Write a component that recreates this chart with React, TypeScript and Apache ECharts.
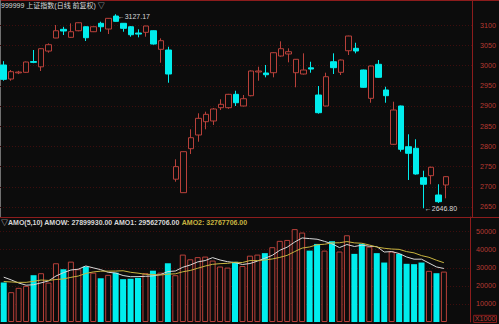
import React, { useEffect, useRef } from 'react';
import * as echarts from 'echarts';

// Trading days shown (Shanghai Composite, daily, forward-adjusted)
const dates = [
  '2019-12-23', '2019-12-24', '2019-12-25', '2019-12-26', '2019-12-27', '2019-12-30', '2019-12-31',
  '2020-01-02', '2020-01-03', '2020-01-06', '2020-01-07', '2020-01-08', '2020-01-09', '2020-01-10',
  '2020-01-13', '2020-01-14', '2020-01-15', '2020-01-16', '2020-01-17', '2020-01-20', '2020-01-21',
  '2020-01-22', '2020-01-23', '2020-02-03', '2020-02-04', '2020-02-05', '2020-02-06', '2020-02-07',
  '2020-02-10', '2020-02-11', '2020-02-12', '2020-02-13', '2020-02-14', '2020-02-17', '2020-02-18',
  '2020-02-19', '2020-02-20', '2020-02-21', '2020-02-24', '2020-02-25', '2020-02-26', '2020-02-27',
  '2020-02-28', '2020-03-02', '2020-03-03', '2020-03-04', '2020-03-05', '2020-03-06', '2020-03-09',
  '2020-03-10', '2020-03-11', '2020-03-12', '2020-03-13', '2020-03-16', '2020-03-17', '2020-03-18',
  '2020-03-19', '2020-03-20', '2020-03-23', '2020-03-24',
];

const opens = [
  3001.5, 2966.8, 2982.0, 2983.4, 3010.0, 2997.0, 3036.0, 3068.3, 3089.8, 3070.0,
  3086.3, 3096.2, 3083.9, 3104.7, 3090.5, 3122.7, 3104.7, 3096.2, 3080.6, 3082.4,
  3086.3, 3040.3, 3038.6, 2718.8, 2685.4, 2794.3, 2828.2, 2861.1, 2862.9, 2895.8,
  2895.8, 2928.9, 2900.0, 2925.5, 2984.2, 2981.7, 2982.4, 3023.7, 3028.7, 2982.4,
  2979.2, 2994.5, 2927.2, 2900.0, 3009.6, 2983.4, 3036.8, 3042.8, 2989.1, 2919.0,
  3003.2, 2939.6, 2805.2, 2900.0, 2799.2, 2795.3, 2722.5, 2727.5, 2679.7, 2704.5,
];
const closes = [
  2966.0, 2984.9, 2984.0, 3008.9, 3008.0, 3041.8, 3051.7, 3086.3, 3085.6, 3083.9,
  3106.1, 3069.0, 3096.2, 3096.2, 3117.0, 3109.6, 3092.3, 3076.4, 3078.0, 3098.0,
  3053.4, 3061.6, 2979.2, 2749.9, 2786.9, 2821.5, 2869.5, 2879.4, 2892.6, 2904.2,
  2928.9, 2908.1, 2918.0, 2986.6, 2986.6, 2977.4, 3031.9, 3041.8, 3034.4, 3015.6,
  2989.1, 2991.5, 2883.4, 2972.5, 2994.8, 3013.8, 3073.2, 3036.1, 2946.3, 2999.0,
  2971.0, 2925.5, 2890.1, 2792.8, 2782.9, 2731.7, 2706.2, 2748.3, 2663.1, 2725.0,
];
const lows = [
  2962.6, 2962.6, 2979.0, 2982.0, 3006.0, 2986.6, 3032.0, 3068.0, 3075.7, 3069.0,
  3085.0, 3060.9, 3083.0, 3083.9, 3078.2, 3109.0, 3083.9, 3071.5, 3070.0, 3071.5,
  3052.0, 3007.1, 2957.6, 2712.6, 2685.0, 2781.2, 2811.6, 2842.3, 2853.0, 2890.0,
  2893.0, 2900.0, 2899.0, 2924.0, 2962.6, 2971.0, 2971.0, 3022.0, 3008.1, 2946.3,
  2978.0, 2982.4, 2881.0, 2899.0, 2979.2, 2976.7, 3026.2, 3030.4, 2945.0, 2908.1,
  2970.0, 2908.1, 2804.0, 2786.9, 2716.8, 2730.0, 2646.8, 2706.2, 2660.0, 2671.5,
];
const highs = [
  3011.0, 2989.0, 2987.0, 3010.0, 3038.6, 3043.0, 3055.0, 3100.5, 3096.0, 3104.6,
  3107.0, 3097.0, 3097.0, 3108.6, 3117.8, 3127.17, 3105.0, 3098.0, 3089.8, 3098.5,
  3087.0, 3067.5, 3046.7, 2768.0, 2787.5, 2842.3, 2881.9, 2885.9, 2895.0, 2916.6,
  2930.0, 2937.8, 2927.2, 2988.0, 2997.2, 3001.5, 3033.0, 3060.1, 3042.8, 3016.0,
  3030.4, 3009.6, 2949.5, 2982.4, 3030.4, 3015.0, 3074.0, 3056.6, 2990.0, 3000.0,
  3013.8, 2947.7, 2910.6, 2901.0, 2829.9, 2817.6, 2739.8, 2750.0, 2706.2, 2726.0,
];
// Turnover (AMO), in units of 1000
const volumes = [
  21800, 16500, 18900, 20000, 25900, 27000, 21800, 32500, 29200, 33400,
  29200, 30700, 27300, 24200, 26100, 27300, 23700, 24000, 24400, 27000,
  28400, 27300, 32500, 25900, 37300, 34700, 35900, 36200, 34000, 30700,
  30100, 33300, 31000, 36700, 37300, 38100, 41400, 44900, 45400, 51400,
  49500, 39500, 43200, 39500, 44700, 39000, 48000, 37700, 43200, 41700,
  38100, 32900, 39000, 37700, 32200, 32000, 32900, 28300, 27000, 27900,
];
// Estimated turnover of the 9 sessions before the first shown day (MA warm-up only)
const priorVolumes = [19000, 21000, 20000, 20500, 19500, 24000, 27500, 26000, 24700];

const priceTicks = [2650, 2700, 2750, 2800, 2850, 2900, 2950, 3000, 3050, 3100];
const volumeTicks = [10000, 20000, 30000, 40000, 50000];

const titleText = '999999 上证指数(日线 前复权) ▽';
const amoName = '▽AMO(5,10)';
const amoW = '27899930.00';
const amo1 = '29562706.00';
const amo2 = '32767706.00';
const unitLabel = 'X1000';

const BG = '#0c0c0c';
const RED = '#b8403a';
const CYAN = '#00eded';
const GRID = '#3e0e0e';
const AXIS = '#8c1c1c';
const LABEL = '#b83a32';
const WHITE = '#d8d8d8';
const YELLOW = '#c8b440';
const FONT = '"Liberation Sans", "Noto Sans CJK SC", sans-serif';
const TXT = 7;

function movingAverage(n: number): number[] {
  const all = priorVolumes.concat(volumes);
  const off = priorVolumes.length;
  return volumes.map((_, i) => {
    let s = 0;
    for (let k = i + off - n + 1; k <= i + off; k++) s += all[k];
    return +(s / n).toFixed(1);
  });
}

export default function App() {
  const ref = useRef<HTMLDivElement>(null);
  useEffect(() => {
    document.body.style.margin = '0';
    const chart = echarts.init(ref.current!, null, { renderer: 'svg' });
    const ohlc = dates.map((_, i) => [opens[i], closes[i], lows[i], highs[i]]);
    const volData = volumes.map((v, i) => ({
      value: v,
      itemStyle: closes[i] >= opens[i]
        ? { color: BG, borderColor: RED, borderWidth: 1 }
        : { color: CYAN, borderWidth: 0 },
    }));
    const axisCommon = {
      axisLine: { show: false },
      axisTick: { show: false },
      axisLabel: { show: false },
      splitLine: { show: false },
    };
    const plain = (v: number) => String(v);
    chart.setOption({
      animation: false,
      backgroundColor: BG,
      title: [
        {
          text: titleText, left: 1, top: 2, padding: 0,
          textStyle: { color: WHITE, fontSize: TXT, fontWeight: 'normal', fontFamily: FONT },
        },
        {
          text: `{w|${amoName} AMOW: ${amoW} AMO1: ${amo1} }{y|AMO2: ${amo2}}`,
          left: 1, top: 218.5, padding: 0,
          textStyle: {
            fontSize: TXT, fontFamily: FONT,
            rich: {
              w: { color: WHITE, fontSize: TXT, fontFamily: FONT },
              y: { color: YELLOW, fontSize: TXT, fontFamily: FONT },
            },
          },
        },
      ],
      grid: [
        { left: 0, right: 27, top: 0, height: 217 },
        { left: 0, right: 27, top: 217, height: 105 },
      ],
      xAxis: [
        { type: 'category', gridIndex: 0, data: dates, max: 62, boundaryGap: true, ...axisCommon },
        { type: 'category', gridIndex: 1, data: dates, max: 62, boundaryGap: true, ...axisCommon },
      ],
      yAxis: [
        {
          type: 'value', gridIndex: 0, position: 'right', min: 2625.2, max: 3162.4,
          axisLine: { show: true, lineStyle: { color: AXIS } },
          axisTick: { show: false, customValues: priceTicks },
          axisLabel: { customValues: priceTicks, formatter: plain, color: LABEL, fontSize: 7.2, margin: 8, fontFamily: FONT },
          splitLine: { show: true, lineStyle: { color: GRID, type: [1, 2], width: 1 } },
        },
        {
          type: 'value', gridIndex: 1, position: 'right', min: 0, max: 58100,
          axisLine: { show: true, lineStyle: { color: AXIS } },
          axisTick: { show: false, customValues: volumeTicks },
          axisLabel: { customValues: volumeTicks, formatter: plain, color: LABEL, fontSize: 7.2, margin: 6, fontFamily: FONT },
          splitLine: { show: true, lineStyle: { color: GRID, type: [1, 2], width: 1 } },
        },
      ],
      series: [
        {
          type: 'candlestick', xAxisIndex: 0, yAxisIndex: 0, data: ohlc, barWidth: 6,
          itemStyle: { color: BG, color0: CYAN, borderColor: RED, borderColor0: CYAN, borderWidth: 1 },
          markPoint: {
            symbol: 'circle', symbolSize: 1,
            itemStyle: { color: 'rgba(0,0,0,0)' },
            label: {
              show: true, position: 'right', distance: 1,
              color: WHITE, fontSize: TXT, fontFamily: FONT,
              formatter: (p: any) => '←' + Number(p.value).toFixed(2),
            },
            data: [
              { type: 'max', valueDim: 'highest', label: { offset: [0, 2] } },
              { type: 'min', valueDim: 'lowest', label: { offset: [0, 0] } },
            ],
          },
        },
        {
          type: 'bar', xAxisIndex: 1, yAxisIndex: 1, data: volData, barWidth: 6,
        },
        {
          type: 'line', xAxisIndex: 1, yAxisIndex: 1, data: movingAverage(5),
          showSymbol: false, lineStyle: { color: WHITE, width: 1 }, z: 5,
        },
        {
          type: 'line', xAxisIndex: 1, yAxisIndex: 1, data: movingAverage(10),
          showSymbol: false, lineStyle: { color: YELLOW, width: 1 }, z: 5,
        },
      ],
      graphic: [
        { type: 'line', shape: { x1: 0, y1: 217.5, x2: 499, y2: 217.5 }, style: { stroke: AXIS, lineWidth: 1 } },
        { type: 'line', shape: { x1: 0, y1: 0.5, x2: 499, y2: 0.5 }, style: { stroke: AXIS, lineWidth: 1 } },
        { type: 'line', shape: { x1: 0.5, y1: 0, x2: 0.5, y2: 217 }, style: { stroke: '#707070', lineWidth: 1 } },
        {
          type: 'text', right: 2, bottom: 1,
          style: {
            text: unitLabel, fill: LABEL, fontSize: 7.2, fontFamily: FONT,
            borderColor: AXIS, borderWidth: 1, padding: [0, 1],
          },
        },
      ],
    });
    return () => chart.dispose();
  }, []);
  return <div ref={ref} style={{ width: 499, height: 324 }} />;
}
